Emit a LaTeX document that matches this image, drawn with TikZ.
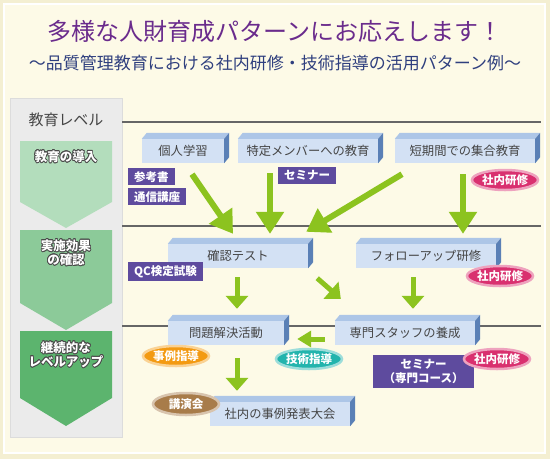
\documentclass[tikz,border=0pt]{standalone}
\usepackage{fontspec}
\setmainfont{Noto Sans CJK JP}
\usepackage{contour}
\usepackage{tikz}
\usetikzlibrary{arrows.meta}
\usetikzlibrary{shapes.geometric}
\usetikzlibrary{calc}

\definecolor{bgouter}{HTML}{F4EFD2}
\definecolor{bgcream}{HTML}{FDFAE7}
\definecolor{titlepurple}{HTML}{6A2B8C}
\definecolor{subblue}{HTML}{2F3F7E}
\definecolor{panelgray}{HTML}{EBEBEB}
\definecolor{panelline}{HTML}{DCDCDC}
\definecolor{levA}{HTML}{B3DDBC}
\definecolor{levB}{HTML}{8CCA99}
\definecolor{levC}{HTML}{5CB46E}
\definecolor{rulegray}{HTML}{666666}
\definecolor{boxfront}{HTML}{D3E1F4}
\definecolor{boxtop}{HTML}{ADC6E7}
\definecolor{boxside}{HTML}{5A80B6}
\definecolor{tagpurple}{HTML}{5E4B9E}
\definecolor{pinkglow}{HTML}{D9306F}
\definecolor{orangeglow}{HTML}{F39A12}
\definecolor{tealglow}{HTML}{22B4AD}
\definecolor{brownglow}{HTML}{A87C4A}
\definecolor{arrowgreen}{HTML}{8CC31F}
\definecolor{textgray}{HTML}{444444}
\definecolor{rimgray}{HTML}{4A4A4A}

\contourlength{0.7pt}

\begin{document}
\begin{tikzpicture}[x=1pt,y=-1pt,
  blk/.style={fill=boxfront, minimum width=140pt, minimum height=24pt, inner sep=0pt, text=textgray, font=\fontsize{12.3}{14}\selectfont},
  tag/.style={fill=tagpurple, text=white, font=\bfseries\fontsize{11.5}{14}\selectfont, inner xsep=6pt, inner ysep=0pt, minimum height=17pt, anchor=north west},
  pill/.style={ellipse, fill=#1, draw=#1!45, line width=2.5pt, text=white, font=\bfseries\fontsize{11.5}{14}\selectfont, minimum width=66pt, minimum height=20pt, inner sep=0pt},
  levtext/.style={text=white, font=\bfseries\fontsize{12.5}{14}\selectfont, align=center},
  bigarrow/.style={draw=arrowgreen, line width=6pt, -{Triangle[width=27pt,length=22pt]}},
  smallarrow/.style={draw=arrowgreen, line width=5pt, -{Triangle[width=22pt,length=13pt]}},
  rule/.style={draw=rulegray, line width=2pt}]
\useasboundingbox (0,0) rectangle (550,459);
%% background and titles
\fill[bgouter] (0,0) rectangle (550,459);
\draw[white, line width=1.5pt, fill=bgcream] (4,4) rectangle (545,453);
\node[text=titlepurple, font=\fontsize{24}{26}\selectfont] (title) at (275,31) {多様な人財育成パターンにお応えします！};
\node[text=subblue, font=\fontsize{17}{19}\selectfont] (subtitle) at (275,63) {～品質管理教育における社内研修・技術指導の活用パターン例～};
%% level panel
\draw[panelline, fill=panelgray] (10,98) rectangle (122,437);
\node[text=textgray, font=\fontsize{15}{17}\selectfont] (levhead) at (66,120) {教育レベル};
\fill[levA] (20,141) -- (112,141) -- (112,202) -- (66,228) -- (20,202) -- cycle;
\fill[levB] (20,230) -- (112,230) -- (112,303) -- (66,330) -- (20,303) -- cycle;
\fill[levC] (20,331) -- (112,331) -- (112,398) -- (66,426) -- (20,398) -- cycle;
\node[levtext] (levA) at (66,157) {\contour{rimgray}{教育の導入}};
\node[levtext] (levB) at (66,253) {\contour{rimgray}{実施効果}\\\contour{rimgray}{の確認}};
\node[levtext] (levC) at (66,355) {\contour{rimgray}{継続的な}\\\contour{rimgray}{レベルアップ}};
%% rules
\foreach \y in {122,226,326}
    \draw[rule] (122,\y) -- (541,\y);
%% boxes
\node[blk, minimum width=82pt] (kojin) at (183,151) {個人学習};
\node[blk] (tokutei) at (308,151) {特定メンバーへの教育};
\node[blk] (shugo) at (465,151) {短期間での集合教育};
\node[blk] (kakunin) at (238,256) {確認テスト};
\node[blk] (follow) at (426,256) {フォローアップ研修};
\node[blk, minimum width=116pt] (mondai) at (226,333) {問題解決活動};
\node[blk] (senmon) at (405,333) {専門スタッフの養成};
\node[blk] (happyo) at (280,414) {社内の事例発表大会};
\foreach \n in {kojin,tokutei,shugo,kakunin,follow,mondai,senmon,happyo}{
    \fill[boxtop] (\n.north west) -- ++(5,-6) -- ([shift={(5,-6)}]\n.north east) -- (\n.north east) -- cycle;
    \fill[boxside] (\n.north east) -- ++(5,-6) -- ([shift={(5,-6)}]\n.south east) -- (\n.south east) -- cycle;
}
%% tags
\node[tag] (sankou) at (128,168) {参考書};
\node[tag] (tsushin) at (128,188) {通信講座};
\node[tag] (semi) at (278,167) {セミナー};
\node[tag, minimum height=19pt] (qc) at (128,262) {QC検定試験};
\node[tag, align=center, minimum width=101pt, minimum height=33pt] (semisen) at (373,355) {セミナー\\（専門コース）};
\node[pill=pinkglow] (shanaiA) at (505,180) {社内研修};
\node[pill=pinkglow] (shanaiB) at (500,276) {社内研修};
\node[pill=orangeglow] (jireishido) at (176,356) {事例指導};
\node[pill=tealglow] (gijutsu) at (309,359) {技術指導};
\node[pill=pinkglow] (shanaiC) at (497,359) {社内研修};
\node[pill=brownglow, minimum height=22pt] (koen) at (186,404) {講演会};
%% arrows
\draw[bigarrow] ([shift={(9,11)}]kojin.south) -- ([shift={(-5,-10)}]kakunin.north);
\draw[bigarrow] ([shift={(-38,10)}]tokutei.south) -- ([shift={(32,-10)}]kakunin.north);
\draw[bigarrow] ([shift={(-63,11)}]shugo.south) -- ([shift={(-2,-12)}]kakunin.north east);
\draw[bigarrow] ([shift={(-2,11)}]shugo.south) -- ([shift={(37,-10)}]follow.north);
\draw[smallarrow] ([shift={(-1,9)}]kakunin.south) -- ([shift={(11,-12)}]mondai.north);
\draw[smallarrow] ([shift={(9,10)}]kakunin.south east) -- ([shift={(6,-22)}]senmon.north west);
\draw[smallarrow] ([shift={(-13,9)}]follow.south) -- ([shift={(8,-12)}]senmon.north);
\draw[smallarrow, -{Triangle[width=16pt,length=14pt]}] ([shift={(-10,6)}]senmon.west) -- ([shift={(13,6)}]mondai.east);
\draw[smallarrow] ([shift={(11,13)}]mondai.south) -- ([shift={(-43,-11)}]happyo.north);
\end{tikzpicture}
\end{document}
